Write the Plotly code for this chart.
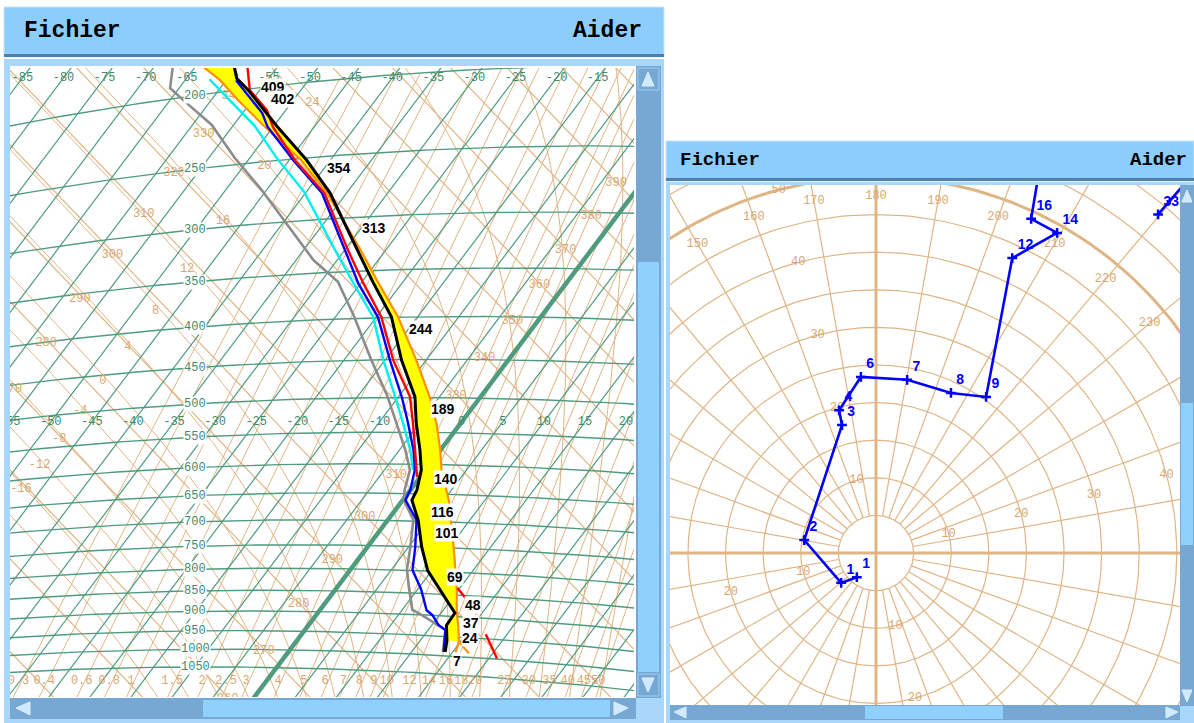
import numpy as np
import plotly.graph_objects as go

# ---------------- profiles (temperature in deg C at pressure in hPa) ----------------
env_p = [186.3, 192.9, 200.8, 225.9, 251.6, 278.5, 329.3, 362.5, 399.3, 450.7,
         498.9, 536.7, 577.3, 609.6, 643.8, 661.6, 698.2, 750.5, 799.2, 840.6,
         891.9, 922.6, 958.8, 990.0]
env_t = [-60.2, -58.9, -56.4, -49.6, -42.9, -37.0, -28.5, -23.5, -18.2, -13.0,
         -8.0, -5.4, -2.5, -0.5, 0.8, 1.1, 3.7, 6.6, 9.5, 12.8,
         16.7, 16.8, 18.2, 19.1]

dew_p = [181.5, 193.4, 204.0, 220.0, 244.8, 271.8, 336.9, 360.0, 397.5, 449.0,
         498.0, 536.5, 577.3, 609.6, 644.1, 661.6, 698.2, 750.5, 799.2, 840.6,
         888.5, 900.0, 922.6, 934.0, 990.0]
dew_t = [-67.7, -66.1, -62.7, -57.7, -51.9, -45.6, -32.9, -27.9, -22.8, -16.8,
         -11.4, -7.8, -4.3, -1.9, -0.7, 0.1, 3.1, 5.2, 6.9, 8.9,
         11.2, 12.8, 15.6, 17.1, 18.8]

red_p = [187.3, 195.0, 201.0, 214.6, 226.2, 251.4, 278.2, 329.2, 362.4, 399.3,
         450.7, 498.9, 536.7, 577.3, 609.6, 621.0, None, 834.0, 858.0, None,
         893.0, 900.0, None, 938.6, 998.5]
red_t = [-58.6, -57.2, -56.2, -52.3, -50.0, -44.2, -37.7, -29.6, -24.7, -19.4,
         -14.0, -8.6, -5.8, -3.1, -1.1, -0.4, None, 14.7, 16.8, None,
         19.5, 19.9, None, 22.4, 26.0]

blue_p = [194.0, 216.2, 225.6, 251.3, 278.0, 329.0, 362.3, 399.3, 450.7, 498.9,
          536.7, 577.3, 609.6, 644.0, 661.6, 698.2, 750.5, 799.2, 840.6, 888.5,
          900.0, 922.6, 934.0, 990.0]
blue_t = [-58.8, -52.6, -50.7, -44.4, -38.0, -30.0, -25.3, -19.8, -14.4, -9.6,
          -6.4, -3.3, -1.3, 0.0, 0.3, 3.5, 5.8, 7.6, 10.4, 13.0,
          14.2, 15.8, 17.1, 18.9]

cyan_p = [191.5, 205.6, 223.9, 248.7, 275.9, 328.4, 362.0, 399.0, 450.5, 498.9,
          536.7, 577.3, 609.6]
cyan_t = [-62.1, -57.7, -52.4, -46.6, -40.3, -31.2, -25.9, -20.4, -15.2, -10.4,
          -7.0, -3.7, -1.5]

parcel_p = [183.8, 192.6, 206.3, 224.8, 250.4, 278.2, 329.5, 362.6, 399.4, 451.0,
            499.0, 537.0, 577.3, 609.6, 661.6, 698.2, 750.5, 799.2, 840.6, 888.5,
            922.6, 961.0, 990.0]
parcel_t = [-64.0, -60.8, -56.7, -51.2, -43.8, -37.4, -28.1, -22.9, -17.4, -11.2,
            -6.2, -2.9, 0.0, 2.0, 5.7, 7.8, 10.6, 13.0, 14.9, 16.8,
            18.3, 19.8, 20.4]
parcel_branch_p = [961.0, 990.0]
parcel_branch_t = [19.8, 22.1]

# heights (hundreds of feet) at levels
level_p = [199, 207, 258, 309, 413, 516, 625, 683, 723, 813, 874, 917, 953, 1015]
level_txt = ["409", "402", "354", "313", "244", "189", "140", "116", "101",
             "69", "48", "37", "24", "7"]

# hodograph: wind direction (deg, from) and speed (kt) with height labels
hodo_dir = [38.4, 49.4, 100.2, 165.1, 165.5, 175.1, 190.2, 205.1, 215.2,
            204.8, 209.5, 204.9, 201.2, 220.0, 219.8]
hodo_spd = [4.1, 6.1, 9.7, 17.6, 19.6, 23.5, 23.4, 23.5, 25.4,
            43.2, 48.9, 49.0, 64.2, 74.1, 58.6]
hodo_lbl = ["1", "1", "2", "3", "4", "6", "7", "8", "9",
            "12", "14", "16", "", "", "33"]

# diagram grid
isobars = list(range(150, 1051, 50))
isobar_labels = list(range(200, 1051, 50))
isotherms = list(range(-110, 55, 5))
dry_adiabats = list(range(220, 440, 10))
wet_bulb_pot = list(range(-20, 41, 4))
mix_ratios = [0.3, 0.4, 0.6, 0.8, 1, 1.5, 2, 2.5, 3, 4, 5, 6, 7, 8, 9, 10,
              12, 14, 16, 18, 20, 25, 30, 35, 40, 45, 50]

GREEN = "#4f9b7e"
GREEN_TXT = "#3f8a6d"
TAN = "#e0b585"
TAN_TXT = "#d9a870"
KAPPA = 0.2857

W, H = 1194, 723
TEPHI_X, TEPHI_Y = (10, 634), (68, 697)
HODO_X = ((670 - 876) / 7.52, (1180 - 876) / 7.52)
HODO_Y = ((553 - 705) / 7.52, (553 - 185) / 7.52)


def proj(t, p):
    """Tephigram projection: temperature / pressure -> diagram units."""
    t = np.asarray(t, dtype=float)
    p = np.asarray(p, dtype=float)
    s = np.log((t + 273.15) * (1000.0 / p) ** KAPPA)
    return -5084.5 + 4.6 * t + 958.0 * s, 7780.2 + 4.8 * t - 1271.0 * s


def clean(a):
    return [None if (v is None or not np.isfinite(v)) else float(v) for v in a]


def joined(segs):
    xs, ys = [], []
    for x, y in segs:
        xs += clean(x) + [None]
        ys += clean(y) + [None]
    return xs, ys


def lines(xs, ys, color, width, ax="", dash=None):
    return go.Scatter(x=xs, y=ys, mode="lines",
                      line=dict(color=color, width=width, dash=dash),
                      hoverinfo="skip", showlegend=False,
                      xaxis="x" + ax, yaxis="y" + ax)


def texts(xs, ys, labels, color, size, ax="", family="Liberation Mono",
          xr=TEPHI_X, yr=TEPHI_Y, pad=4):
    keep = [(x, y, s) for x, y, s in zip(xs, ys, labels)
            if x is not None and y is not None and np.isfinite(x) and np.isfinite(y)
            and min(xr) - pad <= x <= max(xr) + pad and min(yr) - pad <= y <= max(yr) + pad]
    return go.Scatter(x=[k[0] for k in keep], y=[k[1] for k in keep], mode="text",
                      text=[k[2] for k in keep], textposition="middle center",
                      textfont=dict(color=color, size=size, family=family),
                      hoverinfo="skip", showlegend=False, cliponaxis=True,
                      xaxis="x" + ax, yaxis="y" + ax)


def x_on_row(x, y, row):
    x = np.asarray(x); y = np.asarray(y)
    ok = np.isfinite(x) & np.isfinite(y)
    x, y = x[ok], y[ok]
    o = np.argsort(y)
    if row < y[o][0] or row > y[o][-1]:
        return np.nan
    return float(np.interp(row, y[o], x[o]))


def y_on_col(x, y, col):
    o = np.argsort(x)
    return float(np.interp(col, np.asarray(x)[o], np.asarray(y)[o]))


def pseudo_adiabat(tw):
    Rd, cp, Lv, eps = 287.04, 1005.7, 2.501e6, 0.622

    def f(T, p):
        tc = T - 273.15
        es = 6.112 * np.exp(17.67 * tc / (tc + 243.5))
        rs = eps * es / (p - es)
        return (Rd * T + Lv * rs) / (p * (cp + Lv * Lv * rs * eps / (Rd * T * T)))

    parts = []
    for h, pend in ((-5.0, 130.0), (5.0, 1150.0)):
        T, p = tw + 273.15, 1000.0
        ps, ts = [p], [T]
        while (p > pend) if h < 0 else (p < pend):
            k1 = f(T, p)
            k2 = f(T + 0.5 * h * k1, p + 0.5 * h)
            k3 = f(T + 0.5 * h * k2, p + 0.5 * h)
            k4 = f(T + h * k3, p + h)
            T += h * (k1 + 2 * k2 + 2 * k3 + k4) / 6.0
            p += h
            ps.append(p)
            ts.append(T)
        parts.append((np.array(ps), np.array(ts) - 273.15))
    up, down = parts
    return (np.concatenate([up[0][::-1], down[0][1:]]),
            np.concatenate([up[1][::-1], down[1][1:]]))


def mixing_temp(w_gkg, p):
    w = w_gkg / 1000.0
    e = w * p / (0.622 + w)
    le = np.log(e / 6.112)
    return 243.5 * le / (17.67 - le)


traces = []
annots = []

# ---------------- tephigram background ----------------
seg = []
for th in dry_adiabats:
    t = np.linspace(-130, 60, 2)
    p = 1000.0 * ((t + 273.15) / th) ** (1.0 / KAPPA)
    seg.append(proj(t, p))
traces.append(lines(*joined(seg), TAN, 1.2))

seg, wlab = [], []
for tw in wet_bulb_pot:
    pp, tt = pseudo_adiabat(tw)
    seg.append(proj(tt, pp))
    o = np.argsort(tt)
    pl = float(np.interp(-48.0, tt[o], pp[o]))
    wlab.append(proj(-48.0, pl))
traces.append(lines(*joined(seg), TAN, 1.0))

seg, mlab = [], []
pm = np.linspace(1150, 200, 60)
for w in mix_ratios:
    xx, yy = proj(mixing_temp(w, pm), pm)
    seg.append((xx, yy))
    mlab.append(x_on_row(xx, yy, 681) - 3)
traces.append(lines(*joined(seg), TAN, 1.0))

seg = []
for t in isotherms:
    if t == 0:
        continue
    seg.append(proj([t, t], [80, 1400]))
traces.append(lines(*joined(seg), GREEN, 1.2))
traces.append(lines(*joined([proj([0, 0], [80, 1400])]), GREEN, 4.5))

seg, plab = [], []
tt = np.linspace(-140, 70, 220)
for p in isobars:
    xx, yy = proj(tt, np.full_like(tt, p))
    seg.append((xx, yy))
    if p in isobar_labels:
        plab.append((p, y_on_col(xx, yy, 195)))
traces.append(lines(*joined(seg), GREEN, 1.4))

# isotherm labels along two rows
for row in (78, 422):
    lx, lt = [], []
    for t in isotherms:
        xx, yy = proj([t, t], [80, 1400])
        lx.append(x_on_row(xx, yy, row))
        lt.append(f"{t}")
    traces.append(texts(lx, [row] * len(lx), lt, GREEN_TXT, 12))

# potential temperature labels along two isotherms (label set beside the crossing)
for t_iso, dx, dy in ((-59.0, 4, 8), (-5.0, 8, 10)):
    th = np.array(dry_adiabats, dtype=float)
    p = 1000.0 * ((t_iso + 273.15) / th) ** (1.0 / KAPPA)
    xx, yy = proj(np.full_like(th, t_iso), p)
    traces.append(texts(list(xx + dx), list(yy + dy), [str(v) for v in dry_adiabats],
                        TAN_TXT, 12))

# wet-bulb potential temperature labels
traces.append(texts([float(a[0]) for a in wlab], [float(a[1]) + 6 for a in wlab],
                    [str(v) for v in wet_bulb_pot], TAN_TXT, 12))

# mixing ratio labels
traces.append(texts(mlab, [681] * len(mlab), [f"{v:g}" for v in mix_ratios], TAN_TXT, 12))

# ---------------- profiles ----------------
ex, ey = proj(env_t, env_p)
ox, oy = proj(parcel_t, parcel_p)
cut = np.array(parcel_p) <= 961.0
ecut = np.array(env_p) <= 961.0
fx = list(ex[ecut]) + list(ox[cut][::-1])
fy = list(ey[ecut]) + list(oy[cut][::-1])
traces.append(go.Scatter(x=fx, y=fy, mode="lines", fill="toself", fillcolor="#ffff00",
                         line=dict(width=0, color="#ffff00"), hoverinfo="skip",
                         showlegend=False))
traces.append(lines(*joined([(ox, oy), proj(parcel_branch_t, parcel_branch_p)]), "#ff9000", 2.2))

gx, gy = proj(dew_t, dew_p)
traces.append(lines(clean(gx), clean(gy), "#8c8c8c", 2.6))
cx, cy = proj(cyan_t, cyan_p)
traces.append(lines(clean(cx), clean(cy), "#00f0f0", 2.4))
bx, by = proj(blue_t, blue_p)
traces.append(lines(clean(bx), clean(by), "#0000ff", 2.4))
rx, ry = proj(np.array(red_t, dtype=float), np.array(red_p, dtype=float))
traces.append(lines(clean(rx), clean(ry), "#ff0000", 2.4))
traces.append(lines(clean(ex), clean(ey), "#000000", 3.0))

# height labels beside the temperature curve
lp = np.log(np.array(env_p))
for p, txt in zip(level_p, level_txt):
    t = float(np.interp(np.log(p), lp, env_t))
    x, y = proj(t, p)
    annots.append(dict(x=float(x), y=float(y), xref="x", yref="y", text=f"<b>{txt}</b>",
                       showarrow=False, xanchor="left", yanchor="middle", xshift=14,
                       bgcolor="white", borderpad=0,
                       font=dict(size=14, color="black", family="Liberation Sans")))

for p, y in plab:
    annots.append(dict(x=195, y=y, xref="x", yref="y", text=f"{p}", showarrow=False,
                       bgcolor="white", borderpad=0,
                       font=dict(size=12, color=GREEN_TXT, family="Liberation Mono")))

# ---------------- hodograph ----------------
ang = np.linspace(0, 2 * np.pi, 241)
seg = []
for r in range(5, 71, 5):
    if r != 50:
        seg.append((r * np.sin(ang), r * np.cos(ang)))
traces.append(lines(*joined(seg), TAN, 1.2, ax="2"))
traces.append(lines(*joined([(50 * np.sin(ang), 50 * np.cos(ang))]), TAN, 3.0, ax="2"))
seg = []
for d in range(0, 360, 10):
    if d % 90 == 0:
        continue
    a = np.radians(d)
    seg.append(([5 * np.sin(a), 75 * np.sin(a)], [5 * np.cos(a), 75 * np.cos(a)]))
traces.append(lines(*joined(seg), TAN, 1.2, ax="2"))
traces.append(lines(*joined([([-80, 80], [0, 0]), ([0, 0], [-80, 80])]), TAN, 3.0, ax="2"))

dirs = list(range(0, 360, 10))
da = np.radians(np.array(dirs) + 180)
traces.append(texts(list(47.5 * np.sin(da)), list(47.5 * np.cos(da)), [str(d) for d in dirs],
                    TAN_TXT, 12, ax="2", xr=HODO_X, yr=HODO_Y, pad=0.5))
sx, sy, st = [], [], []
for a in (345, 75, 165, 255):
    for r in (10, 20, 30, 40, 50):
        sx.append(r * np.sin(np.radians(a)))
        sy.append(r * np.cos(np.radians(a)))
        st.append(str(r))
traces.append(texts(sx, sy, st, TAN_TXT, 12, ax="2", xr=HODO_X, yr=HODO_Y, pad=0.5))

spd = np.array(hodo_spd)
rad = np.radians(hodo_dir)
hu, hv = -spd * np.sin(rad), -spd * np.cos(rad)
traces.append(go.Scatter(x=hu, y=hv, mode="lines+markers+text",
                         text=[f"<b>{s}</b>" if s else "" for s in hodo_lbl],
                         textposition="top right",
                         textfont=dict(color="#0000ff", size=14, family="Liberation Sans"),
                         line=dict(color="#0000ff", width=2.6),
                         marker=dict(symbol="cross-thin", size=7,
                                     line=dict(color="#0000ff", width=2.5)),
                         hoverinfo="skip", showlegend=False, cliponaxis=True,
                         xaxis="x2", yaxis="y2"))

# ---------------- window chrome ----------------
FRAME = "#a8d7fb"
BAR = "#8dcdfb"
TROUGH = "#77a8d3"
SLIDER = "#8fd0fc"
DARK = "#4f7ea8"


def px(x):
    return x / W


def py(y):
    return 1 - y / H


def rect(x0, y0, x1, y1, fill, line=None, lw=0):
    return dict(type="rect", xref="paper", yref="paper", x0=px(x0), x1=px(x1),
                y0=py(y1), y1=py(y0), fillcolor=fill, layer="below",
                line=dict(width=lw, color=line or fill))


def tri(pts, fill):
    d = "M " + " L ".join(f"{px(x):.5f},{py(y):.5f}" for x, y in pts) + " Z"
    return dict(type="path", xref="paper", yref="paper", path=d, fillcolor=fill,
                layer="below", line=dict(width=1, color="#d8efff"))


shapes = [
    # left window
    rect(4, 7, 664, 57, BAR, "#c4e6ff", 1), rect(4, 54, 664, 57, DARK),
    rect(4, 59, 664, 723, FRAME), rect(10, 66, 636, 698, "white"),
    rect(636, 66, 661, 698, TROUGH), rect(638, 262, 659, 672, SLIDER),
    rect(638, 68, 659, 90, TROUGH, "#9ccff5", 1),
    rect(638, 674, 659, 696, TROUGH, "#9ccff5", 1),
    rect(10, 698, 636, 719, TROUGH), rect(203, 700, 610, 717, SLIDER),
    tri([(642, 86), (654, 86), (648, 72)], "#cfe9ff"),
    tri([(642, 678), (654, 678), (648, 692)], "#cfe9ff"),
    tri([(30, 702), (30, 715), (16, 708)], "#cfe9ff"),
    tri([(614, 702), (614, 715), (628, 708)], "#cfe9ff"),
    # right window
    rect(666, 141, 1194, 181, BAR, "#c4e6ff", 1), rect(666, 178, 1194, 181, DARK),
    rect(666, 182, 1194, 723, FRAME), rect(670, 185, 1180, 705, "white"),
    rect(1180, 185, 1194, 706, TROUGH), rect(1181, 403, 1193, 545, SLIDER),
    rect(670, 705, 1180, 720, TROUGH), rect(865, 706, 1003, 719, SLIDER),
    tri([(1182, 202), (1192, 202), (1187, 190)], "#cfe9ff"),
    tri([(1182, 690), (1192, 690), (1187, 702)], "#cfe9ff"),
    tri([(686, 707), (686, 718), (674, 712)], "#cfe9ff"),
    tri([(1166, 707), (1166, 718), (1178, 712)], "#cfe9ff"),
]

title_font = dict(family="Liberation Mono", color="black")
annots += [
    dict(x=px(22), y=py(31), xref="paper", yref="paper", text="<b>Fichier</b>",
         showarrow=False, xanchor="left", yanchor="middle", font=dict(size=23, **title_font)),
    dict(x=px(644), y=py(31), xref="paper", yref="paper", text="<b>Aider</b>",
         showarrow=False, xanchor="right", yanchor="middle", font=dict(size=23, **title_font)),
    dict(x=px(678), y=py(160), xref="paper", yref="paper", text="<b>Fichier</b>",
         showarrow=False, xanchor="left", yanchor="middle", font=dict(size=19, **title_font)),
    dict(x=px(1189), y=py(160), xref="paper", yref="paper", text="<b>Aider</b>",
         showarrow=False, xanchor="right", yanchor="middle", font=dict(size=19, **title_font)),
]

fig = go.Figure(traces)
ax_common = dict(visible=False, showgrid=False, zeroline=False, fixedrange=True)
fig.update_layout(
    width=W, height=H, margin=dict(l=0, r=0, t=0, b=0),
    paper_bgcolor="white", plot_bgcolor="white",
    xaxis=dict(domain=[px(10), px(634)], range=list(TEPHI_X), **ax_common),
    yaxis=dict(domain=[py(697), py(68)], range=[697, 68], **ax_common),
    xaxis2=dict(domain=[px(670), px(1180)], range=list(HODO_X), **ax_common),
    yaxis2=dict(domain=[py(705), py(185)], range=list(HODO_Y), **ax_common),
    shapes=shapes, annotations=annots,
)
fig.write_html("out.html")
